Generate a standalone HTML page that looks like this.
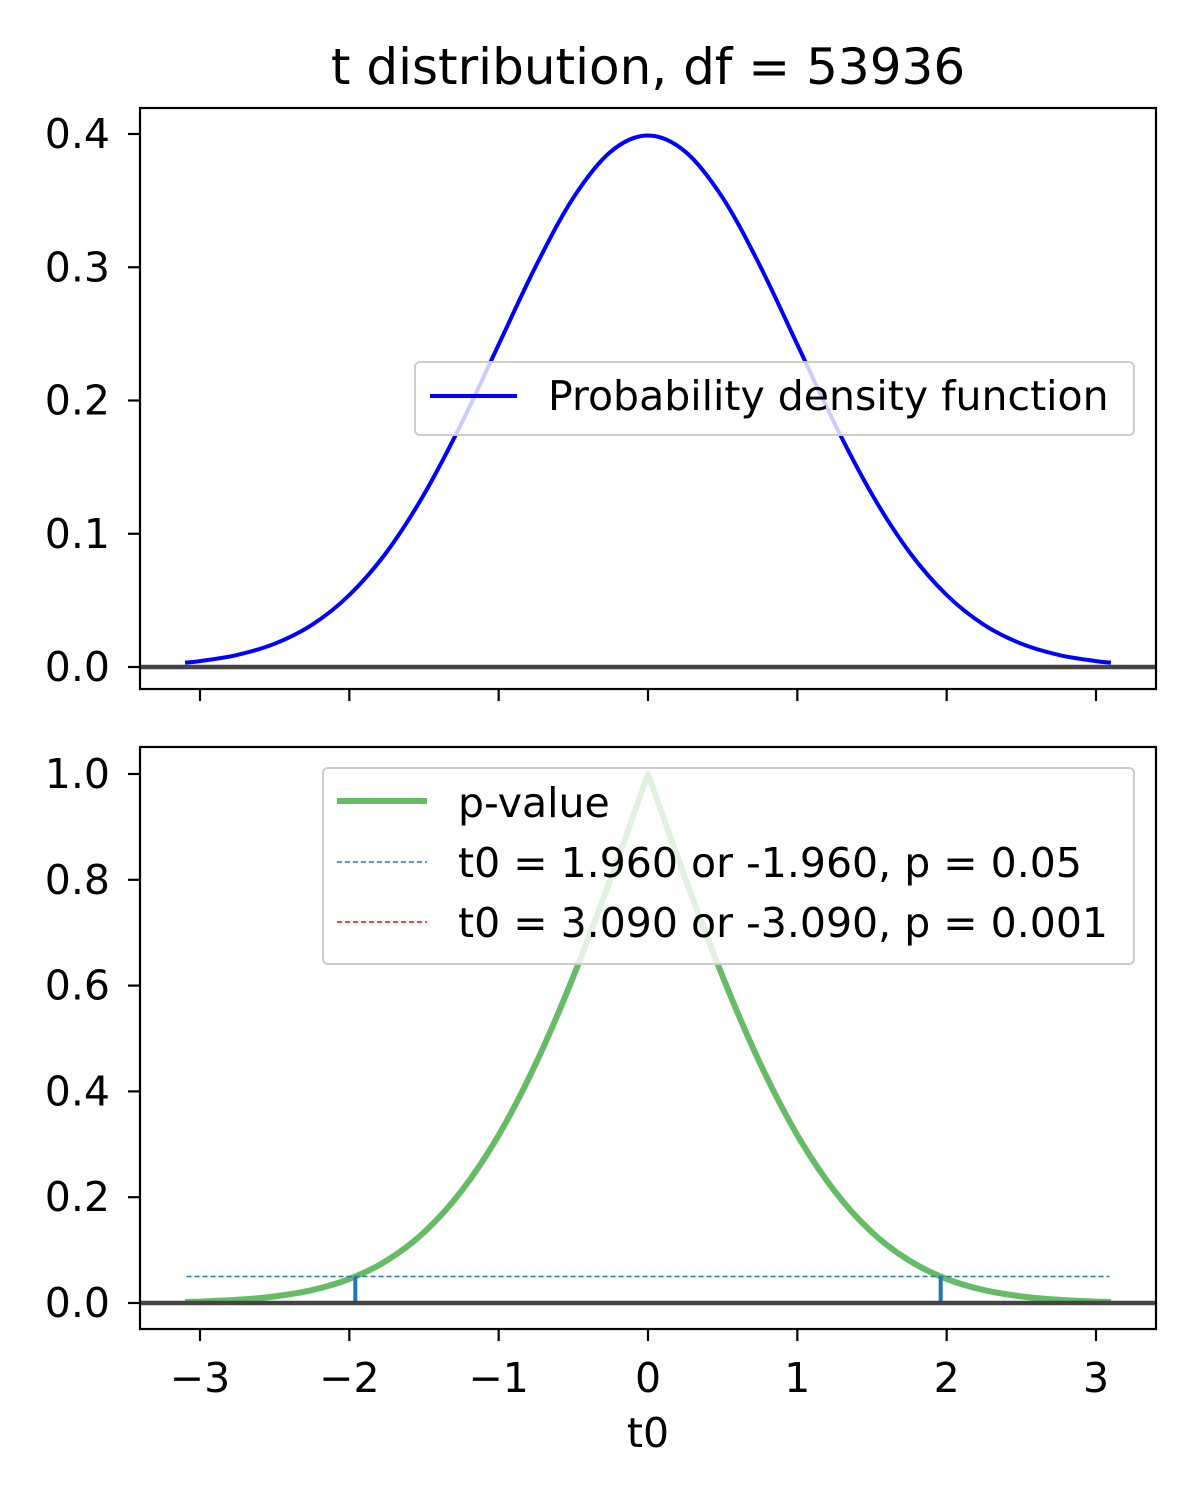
<!DOCTYPE html>
<html><head><meta charset="utf-8">
<style>
html,body{margin:0;padding:0;background:#fff;}
svg{display:block;font-family:"DejaVu Sans","Liberation Sans",sans-serif;}
</style></head>
<body>
<svg id="chart" width="1200" height="1500" viewBox="0 0 1200 1500" xmlns="http://www.w3.org/2000/svg">
<rect width="1200" height="1500" fill="#fff"/>
<text x="648" y="84" font-size="50" text-anchor="middle">t distribution, df = 53936</text>
<g id="top"></g>
<g id="bot"></g>
<text x="648" y="1447" font-size="41" text-anchor="middle">t0</text>
</svg>
<script>
const tValues = [-3.1,-3,-2.75,-2.5,-2.25,-2,-1.75,-1.5,-1.25,-1,-0.75,-0.5,-0.25,0,0.25,0.5,0.75,1,1.25,1.5,1.75,2,2.25,2.5,2.75,3,3.1];
const pdfValues = [0.0033,0.0044,0.0091,0.0175,0.0317,0.054,0.0863,0.1295,0.1826,0.242,0.3011,0.3521,0.3867,0.3989,0.3867,0.3521,0.3011,0.242,0.1826,0.1295,0.0863,0.054,0.0317,0.0175,0.0091,0.0044,0.0033];
const pValues = [0.0019,0.0027,0.006,0.0124,0.0244,0.0455,0.0801,0.1336,0.2113,0.3173,0.4533,0.6171,0.8026,1.0,0.8026,0.6171,0.4533,0.3173,0.2113,0.1336,0.0801,0.0455,0.0244,0.0124,0.006,0.0027,0.0019];
const xTicks = [-3,-2,-1,0,1,2,3];
const xTickLabels = ["\u22123","\u22122","\u22121","0","1","2","3"];
const topYTicks = [0,0.1,0.2,0.3,0.4];
const topYTickLabels = ["0.0","0.1","0.2","0.3","0.4"];
const botYTicks = [0,0.2,0.4,0.6,0.8,1.0];
const botYTickLabels = ["0.0","0.2","0.4","0.6","0.8","1.0"];
const crit05 = 1.96, crit001 = 3.09, p05 = 0.05, p001 = 0.001;

const NS="http://www.w3.org/2000/svg";
const L=140,R=1156,FS=41;
const x=v=>648+v*149.33;
const yTop=v=>667-v*1332.5;
const yBot=v=>1303-v*529;
function mk(parent,tag,attrs,text){const e=document.createElementNS(NS,tag);for(const k in attrs)e.setAttribute(k,attrs[k]);if(text!==undefined)e.textContent=text;parent.appendChild(e);return e;}
function smooth(xs,ys,fy,breaks){
  const P=xs.map((t,i)=>[x(t),fy(ys[i])]);
  let d='M'+P[0][0].toFixed(1)+','+P[0][1].toFixed(1);
  for(let i=0;i<P.length-1;i++){
    const p1=P[i],p2=P[i+1];
    const p0=(i===0||breaks.includes(i))?p1:P[i-1];
    const p3=(i+2>=P.length||breaks.includes(i+1))?p2:P[i+2];
    const c1=[p1[0]+(p2[0]-p0[0])/6,p1[1]+(p2[1]-p0[1])/6];
    const c2=[p2[0]-(p3[0]-p1[0])/6,p2[1]-(p3[1]-p1[1])/6];
    d+=' C'+c1[0].toFixed(1)+','+c1[1].toFixed(1)+' '+c2[0].toFixed(1)+','+c2[1].toFixed(1)+' '+p2[0].toFixed(1)+','+p2[1].toFixed(1);
  }
  return d;
}

function axes(g,top,bottom,fy,yt,ytl,showX){
  const f=mk(g,'rect',{x:L,y:top,width:R-L,height:bottom-top,fill:'none',stroke:'#000','stroke-width':2.2});
  
  
  xTicks.forEach((t,i)=>{
    const tk=mk(g,'line',{x1:x(t),x2:x(t),y1:bottom,y2:bottom+12,stroke:'#000','stroke-width':2.2});
    
    
    if(showX){
      const tl=mk(g,'text',{x:x(t),y:bottom+63,'font-size':FS,'text-anchor':'middle'},xTickLabels[i]);
      
      
    }
  });
  yt.forEach((v,i)=>{
    const tk=mk(g,'line',{x1:L-12,x2:L,y1:fy(v),y2:fy(v),stroke:'#000','stroke-width':2.2});
    
    
    const tl=mk(g,'text',{x:L-30,y:fy(v)+14,'font-size':FS,'text-anchor':'end'},ytl[i]);
    
    
  });
}

const gt=document.getElementById('top');
const pdf=mk(gt,'path',{d:smooth(tValues,pdfValues,yTop,[]),fill:'none',stroke:'#0000ff','stroke-width':4,'stroke-linejoin':'round'});


const z1=mk(gt,'line',{x1:L,x2:R,y1:yTop(0),y2:yTop(0),stroke:'#444','stroke-width':4.5});


axes(gt,108,689,yTop,topYTicks,topYTickLabels,false);
const lg1=mk(gt,'g',{});


mk(lg1,'rect',{x:415,y:362,width:719,height:73,rx:5,fill:'rgba(255,255,255,0.8)',stroke:'#ccc','stroke-width':2});
mk(lg1,'line',{x1:430,x2:517,y1:396,y2:396,stroke:'#0000ff','stroke-width':4});
const lt1=mk(lg1,'text',{x:548,y:410,'font-size':FS},'Probability density function');



const gb=document.getElementById('bot');
const pv=mk(gb,'path',{d:smooth(tValues,pValues,yBot,[13]),fill:'none',stroke:'rgb(102,187,102)','stroke-width':6,'stroke-linejoin':'round'});


const h05=mk(gb,'line',{x1:x(-crit001),x2:x(crit001),y1:yBot(p05),y2:yBot(p05),stroke:'#1f77b4','stroke-width':1.5,'stroke-dasharray':'5,3'});


const h001=mk(gb,'line',{x1:x(-crit001),x2:x(crit001),y1:yBot(p001),y2:yBot(p001),stroke:'#ff0000','stroke-width':1.5,'stroke-dasharray':'5,3'});


[-crit05,crit05].forEach(c=>{
  const v=mk(gb,'line',{x1:x(c),x2:x(c),y1:yBot(0),y2:yBot(p05),stroke:'#1f77b4','stroke-width':4});
  
  
});
const z2=mk(gb,'line',{x1:L,x2:R,y1:yBot(0),y2:yBot(0),stroke:'#444','stroke-width':4.5});


axes(gb,747,1329,yBot,botYTicks,botYTickLabels,true);
const lg2=mk(gb,'g',{});


mk(lg2,'rect',{x:323,y:768,width:811,height:196,rx:5,fill:'rgba(255,255,255,0.8)',stroke:'#ccc','stroke-width':2});
mk(lg2,'line',{x1:337,x2:427,y1:801,y2:801,stroke:'rgb(102,187,102)','stroke-width':6});
mk(lg2,'line',{x1:337,x2:427,y1:862,y2:862,stroke:'#1f77b4','stroke-width':1.5,'stroke-dasharray':'5,3'});
mk(lg2,'line',{x1:337,x2:427,y1:922,y2:922,stroke:'#ff0000','stroke-width':1.5,'stroke-dasharray':'5,3'});
const labels=['p-value','t0 = 1.960 or -1.960, p = 0.05','t0 = 3.090 or -3.090, p = 0.001'];
labels.forEach((s,i)=>{
  const t=mk(lg2,'text',{x:458,y:817+i*60,'font-size':FS},s);
  
  
});
</script>
</body></html>
